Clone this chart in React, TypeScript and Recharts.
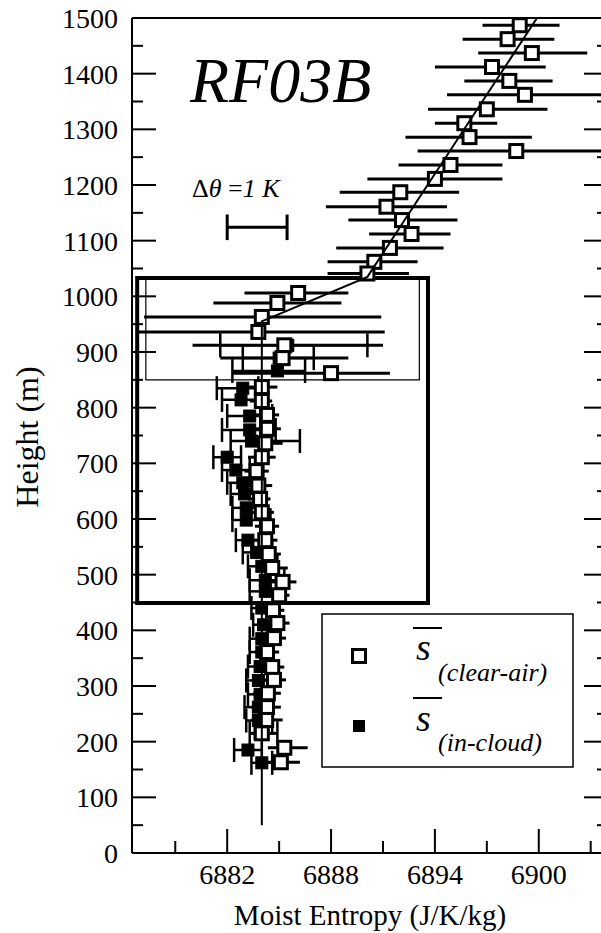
import React from 'react';
import {
  ScatterChart,
  Scatter,
  XAxis,
  YAxis,
  ErrorBar,
  ReferenceArea,
  ReferenceLine,
} from 'recharts';

// clear-air profile: height (m), mean moist entropy, error bar ends (J/K/kg)
const caHeight = [1487, 1462, 1437, 1412, 1387, 1362, 1336, 1311, 1286, 1261, 1236, 1211, 1187, 1161, 1137, 1112, 1087, 1062, 1041, 1006, 988, 963, 936, 912, 889, 862, 837, 812, 787, 762, 736, 711, 686, 660, 636, 612, 587, 562, 537, 512, 487, 463, 436, 413, 386, 361, 334, 311, 287, 262, 239, 215, 189, 163];
const caMean = [6898.9, 6898.2, 6899.6, 6897.3, 6898.3, 6899.2, 6897.0, 6895.7, 6896.0, 6898.7, 6894.9, 6894.0, 6892.0, 6891.2, 6892.1, 6892.65, 6891.4, 6890.5, 6890.1, 6886.1, 6884.9, 6884.0, 6883.8, 6885.3, 6885.2, 6888.0, 6884.0, 6884.0, 6884.3, 6884.3, 6884.2, 6884.0, 6883.7, 6883.8, 6883.9, 6884.0, 6884.3, 6884.2, 6884.4, 6884.6, 6885.2, 6885.0, 6884.65, 6884.9, 6884.7, 6884.3, 6884.6, 6884.7, 6884.35, 6884.3, 6884.25, 6884.0, 6885.3, 6885.1];
const caLow = [6896.75, 6895.6, 6896.5, 6894.0, 6895.7, 6894.7, 6893.6, 6894.0, 6892.3, 6893.0, 6891.9, 6890.1, 6888.5, 6887.7, 6889.0, 6890.2, 6888.3, 6887.8, 6887.8, 6883.0, 6881.2, 6877.2, 6876.9, 6880.0, 6881.6, 6882.3, 6883.2, 6883.3, 6883.6, 6883.5, 6883.4, 6883.2, 6883.0, 6883.1, 6883.2, 6883.3, 6883.6, 6883.5, 6883.7, 6883.9, 6884.4, 6884.3, 6884.0, 6884.2, 6884.0, 6883.6, 6883.9, 6883.9, 6883.5, 6883.4, 6883.4, 6883.3, 6884.35, 6884.3];
const caHigh = [6901.2, 6900.9, 6902.8, 6900.4, 6900.8, 6904.0, 6900.5, 6897.6, 6899.6, 6904.0, 6897.9, 6897.9, 6895.4, 6894.7, 6895.3, 6894.9, 6894.5, 6893.0, 6892.5, 6889.0, 6888.6, 6890.9, 6891.1, 6891.0, 6889.0, 6891.4, 6884.9, 6884.6, 6885.0, 6885.1, 6885.2, 6884.8, 6884.4, 6884.6, 6884.5, 6884.7, 6885.0, 6884.9, 6885.1, 6885.5, 6886.0, 6885.6, 6885.3, 6885.6, 6885.4, 6885.0, 6885.3, 6885.4, 6885.1, 6885.1, 6885.2, 6884.8, 6886.65, 6886.2];

// in-cloud profile
const icHeight = [912, 889, 866, 835, 814, 785, 760, 740, 711, 688, 665, 645, 620, 598, 562, 540, 515, 490, 470, 440, 410, 385, 361, 335, 310, 285, 262, 238, 215, 185, 162];
const icMean = [6885.5, 6885.0, 6884.9, 6882.9, 6882.8, 6883.3, 6883.3, 6883.4, 6882.0, 6882.5, 6882.9, 6883.0, 6883.1, 6883.1, 6883.2, 6883.7, 6884.0, 6884.2, 6884.2, 6884.0, 6884.1, 6884.0, 6884.0, 6883.9, 6883.8, 6883.9, 6883.8, 6883.8, 6883.9, 6883.2, 6884.0];
const icLow = [6881.6, 6882.9, 6882.3, 6881.4, 6881.7, 6882.0, 6881.7, 6882.2, 6881.2, 6881.7, 6882.0, 6882.2, 6882.3, 6882.3, 6882.5, 6882.9, 6883.2, 6883.3, 6883.3, 6883.4, 6883.5, 6883.3, 6883.3, 6883.2, 6883.1, 6883.2, 6883.0, 6883.1, 6883.3, 6882.4, 6883.4];
const icHigh = [6890.1, 6887.0, 6886.5, 6883.8, 6884.0, 6884.6, 6884.8, 6886.2, 6882.8, 6883.3, 6883.8, 6883.9, 6884.0, 6884.5, 6884.1, 6884.6, 6884.9, 6885.3, 6885.0, 6884.7, 6884.7, 6884.6, 6884.6, 6884.5, 6884.6, 6884.5, 6884.5, 6884.6, 6884.9, 6884.0, 6884.6];

// mixing-line fit
const fitS = [6884.0, 6884.0, 6890.1, 6899.9];
const fitH = [50, 955, 1035, 1500];

// axes
const xDomain = [6876.5, 6904];
const xTicks = [6879, 6882, 6885, 6888, 6891, 6894, 6897, 6900, 6903];
const xMajor = [6882, 6888, 6894, 6900];
const yTicks = Array.from({ length: 31 }, (_, i) => i * 50);

// annotation boxes and the 1 K scale bar
const thickBox = { x1: 6876.8, x2: 6893.6, y1: 449, y2: 1033 };
const thinBox = { x1: 6877.3, x2: 6893.1, y1: 850, y2: 1033 };
const barStart = 6882;
const barLen = 3.46;
const barH = 1124;

const FONT = 'Liberation Serif, Tinos, DejaVu Serif, serif';
const serif = { fontFamily: FONT };

const clearData = caHeight.map((h, i) => ({ h, s: caMean[i], err: [caMean[i] - caLow[i], caHigh[i] - caMean[i]] }));
const cloudData = icHeight.map((h, i) => ({ h, s: icMean[i], err: [icMean[i] - icLow[i], icHigh[i] - icMean[i]] }));
const fitData = fitS.map((s, i) => ({ s, h: fitH[i] }));

const OpenSquare = (p: any) => (
  <rect x={p.cx - 6.5} y={p.cy - 6.5} width={13} height={13} fill="#fff" stroke="#000" strokeWidth={3} />
);
const FilledSquare = (p: any) => (
  <rect x={p.cx - 6} y={p.cy - 6} width={12} height={12} fill="#000" stroke="#000" strokeWidth={1} />
);

const BottomTick = (p: any) => {
  const v = p.payload.value;
  const major = xMajor.includes(v);
  return (
    <g>
      <line x1={p.x} x2={p.x} y1={p.y} y2={p.y - (major ? 24 : 12)} stroke="#000" strokeWidth={2} />
      {major && (
        <text x={p.x} y={p.y + 31} textAnchor="middle" fontSize={28} style={serif} fill="#000">
          {v}
        </text>
      )}
    </g>
  );
};
const TopTick = (p: any) => {
  const major = xMajor.includes(p.payload.value);
  return <line x1={p.x} x2={p.x} y1={p.y} y2={p.y + (major ? 24 : 12)} stroke="#000" strokeWidth={2} />;
};
const LeftTick = (p: any) => {
  const v = p.payload.value;
  const major = v % 100 === 0;
  return (
    <g>
      <line x1={p.x} x2={p.x + (major ? 24 : 11)} y1={p.y} y2={p.y} stroke="#000" strokeWidth={2} />
      {major && (
        <text x={118} y={p.y + 10} textAnchor="end" fontSize={28} style={serif} fill="#000">
          {v}
        </text>
      )}
    </g>
  );
};
const RightTick = (p: any) => {
  const major = p.payload.value % 100 === 0;
  return <line x1={p.x} x2={p.x - (major ? 24 : 11)} y1={p.y} y2={p.y} stroke="#000" strokeWidth={2} />;
};

export default function App() {
  return (
    <div style={{ position: 'absolute', left: 0, top: 0, width: 601, height: 933, overflow: 'hidden', background: '#fff', fontFamily: FONT }}>
      <ScatterChart width={615} height={933} margin={{ top: 17, right: 6, left: 0, bottom: 0 }} style={serif}>
        <XAxis
          type="number"
          dataKey="s"
          domain={xDomain}
          ticks={xTicks}
          interval={0}
          allowDataOverflow
          height={80}
          tickSize={0}
          tickMargin={0}
          tickLine={false}
          tick={<BottomTick />}
          axisLine={{ stroke: '#000', strokeWidth: 2 }}
        />
        <XAxis
          xAxisId="top"
          orientation="top"
          type="number"
          domain={xDomain}
          ticks={xTicks}
          interval={0}
          allowDataOverflow
          height={1}
          tickSize={0}
          tickMargin={0}
          tickLine={false}
          tick={<TopTick />}
          axisLine={{ stroke: '#000', strokeWidth: 2 }}
        />
        <YAxis
          type="number"
          dataKey="h"
          domain={[0, 1500]}
          ticks={yTicks}
          interval={0}
          allowDataOverflow
          width={132}
          tickSize={0}
          tickMargin={0}
          tickLine={false}
          tick={<LeftTick />}
          axisLine={{ stroke: '#000', strokeWidth: 2 }}
        />
        <YAxis
          yAxisId="right"
          orientation="right"
          type="number"
          domain={[0, 1500]}
          ticks={yTicks}
          interval={0}
          allowDataOverflow
          width={1}
          tickSize={0}
          tickMargin={0}
          tickLine={false}
          tick={<RightTick />}
          axisLine={{ stroke: '#000', strokeWidth: 2 }}
        />

        <ReferenceArea {...thickBox} fill="none" stroke="#000" strokeWidth={4} />
        <ReferenceArea {...thinBox} fill="none" stroke="#000" strokeWidth={1.2} />

        <ReferenceLine segment={[{ x: barStart, y: barH }, { x: barStart + barLen, y: barH }]} stroke="#000" strokeWidth={3} />
        <ReferenceLine segment={[{ x: barStart, y: barH - 23 }, { x: barStart, y: barH + 23 }]} stroke="#000" strokeWidth={3} />
        <ReferenceLine segment={[{ x: barStart + barLen, y: barH - 23 }, { x: barStart + barLen, y: barH + 23 }]} stroke="#000" strokeWidth={3} />

        <Scatter name="in-cloud" data={cloudData} shape={<FilledSquare />} isAnimationActive={false}>
          <ErrorBar dataKey="err" direction="x" width={12} stroke="#000" strokeWidth={2.5} />
        </Scatter>
        <Scatter name="clear-air" data={clearData} shape={<OpenSquare />} isAnimationActive={false}>
          <ErrorBar dataKey="err" direction="x" width={0} stroke="#000" strokeWidth={3} />
        </Scatter>
        <Scatter
          name="fit"
          data={fitData}
          line={{ stroke: '#000', strokeWidth: 2 }}
          shape={() => <g />}
          isAnimationActive={false}
        />
      </ScatterChart>

      <svg width={601} height={933} style={{ position: 'absolute', left: 0, top: 0, pointerEvents: 'none', ...serif }}>
        <text x={27} y={437} transform="rotate(-90 27 437)" textAnchor="middle" dominantBaseline="central" fontSize={32} style={serif}>
          Height (m)
        </text>
        <text x={370} y={925} textAnchor="middle" fontSize={29} style={serif}>
          Moist Entropy (J/K/kg)
        </text>
        <text x={190} y={102} fontSize={64} fontStyle="italic" style={serif}>
          RF03B
        </text>
        <text x={192} y={197} fontSize={26} style={serif}>
          Δ<tspan fontStyle="italic">θ</tspan> =<tspan fontStyle="italic">1 K</tspan>
        </text>

        <rect x={322} y={614} width={251} height={153} fill="#fff" stroke="#000" strokeWidth={1.5} />
        <rect x={352.5} y={649.5} width={13} height={13} fill="#fff" stroke="#000" strokeWidth={3} />
        <rect x={353} y={720} width={12} height={12} fill="#000" />
        <line x1={413} x2={442} y1={628} y2={628} stroke="#000" strokeWidth={2} />
        <text x={416} y={660} fontSize={38} fontStyle="italic" style={serif}>s</text>
        <text x={438} y={681} fontSize={26} fontStyle="italic" style={serif}>(clear-air)</text>
        <line x1={413} x2={442} y1={698} y2={698} stroke="#000" strokeWidth={2} />
        <text x={416} y={731} fontSize={38} fontStyle="italic" style={serif}>s</text>
        <text x={438} y={751} fontSize={26} fontStyle="italic" style={serif}>(in-cloud)</text>
      </svg>
    </div>
  );
}
